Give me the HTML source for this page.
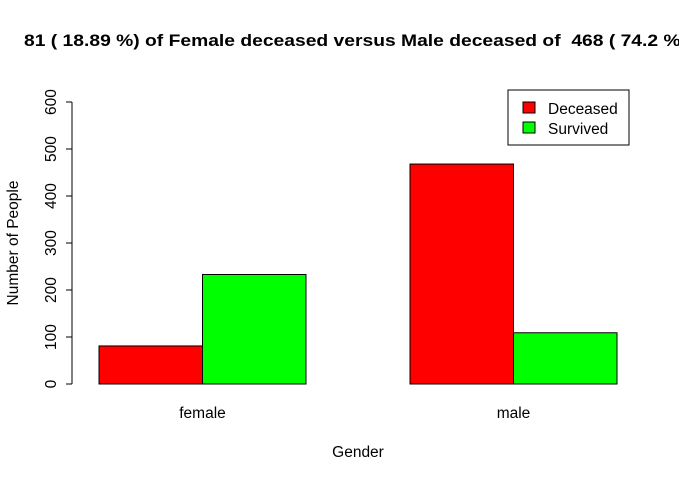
<!DOCTYPE html>
<html><head><style>
body{margin:0;background:#fff;}
svg text{font-family:"Liberation Sans",Arial,sans-serif;}
</style></head><body>
<svg width="679" height="482" xmlns="http://www.w3.org/2000/svg">
<rect width="679" height="482" fill="#fff"/>
<text x="24" y="46" font-size="17" font-weight="bold" xml:space="preserve" textLength="663" lengthAdjust="spacingAndGlyphs">81 ( 18.89 %) of Female deceased versus Male deceased of  468 ( 74.2 %)</text>
<g id="axis"></g>
<g id="bars"></g>
<text x="358" y="457" font-size="15.5" text-anchor="middle">Gender</text>
<text transform="translate(18,243) rotate(-90)" font-size="15.5" text-anchor="middle">Number of People</text>
<g>
<rect x="508" y="90" width="121" height="55" fill="#fff" stroke="#000"/>
<rect x="523" y="102" width="12" height="11" fill="#f00" stroke="#000"/>
<text x="548" y="114" font-size="15.5">Deceased</text>
<rect x="523" y="122" width="12" height="11" fill="#0f0" stroke="#000"/>
<text x="548" y="134" font-size="15.5">Survived</text>
</g>
</svg>
<script>
const categories=["female","male"];
const deceased=[81,468];
const survived=[233,109];
const yTicks=[0,100,200,300,400,500,600];
const NS="http://www.w3.org/2000/svg";
function y(v){return 384-v*(282/600);}
const ax=document.getElementById('axis');
function mk(tag,attrs,parent){const e=document.createElementNS(NS,tag);for(const k in attrs)e.setAttribute(k,attrs[k]);parent.appendChild(e);return e;}
mk('line',{x1:72,x2:72,y1:y(0),y2:y(600),stroke:'#000'},ax);
yTicks.forEach(t=>{
  const l=mk('line',{x1:66,x2:72,y1:y(t),y2:y(t),stroke:'#000'},ax);
  
  
  const tx=mk('text',{transform:`translate(56,${y(t)}) rotate(-90)`,'font-size':15.5,'text-anchor':'middle'},ax);
  tx.textContent=t;
  
  
});
const bg=document.getElementById('bars');
const groupStart=[99,410],bw=103.5;
categories.forEach((c,i)=>{
  const x0=groupStart[i];
  const r1=mk('rect',{x:x0,y:y(deceased[i]),width:bw,height:y(0)-y(deceased[i]),fill:'#f00',stroke:'#000'},bg);
  
  
  const r2=mk('rect',{x:x0+bw,y:y(survived[i]),width:bw,height:y(0)-y(survived[i]),fill:'#0f0',stroke:'#000'},bg);
  
  
  const t=mk('text',{x:x0+bw,y:418,'font-size':15.5,'text-anchor':'middle'},bg);
  t.textContent=c;
  
  
});
</script>
</body></html>
